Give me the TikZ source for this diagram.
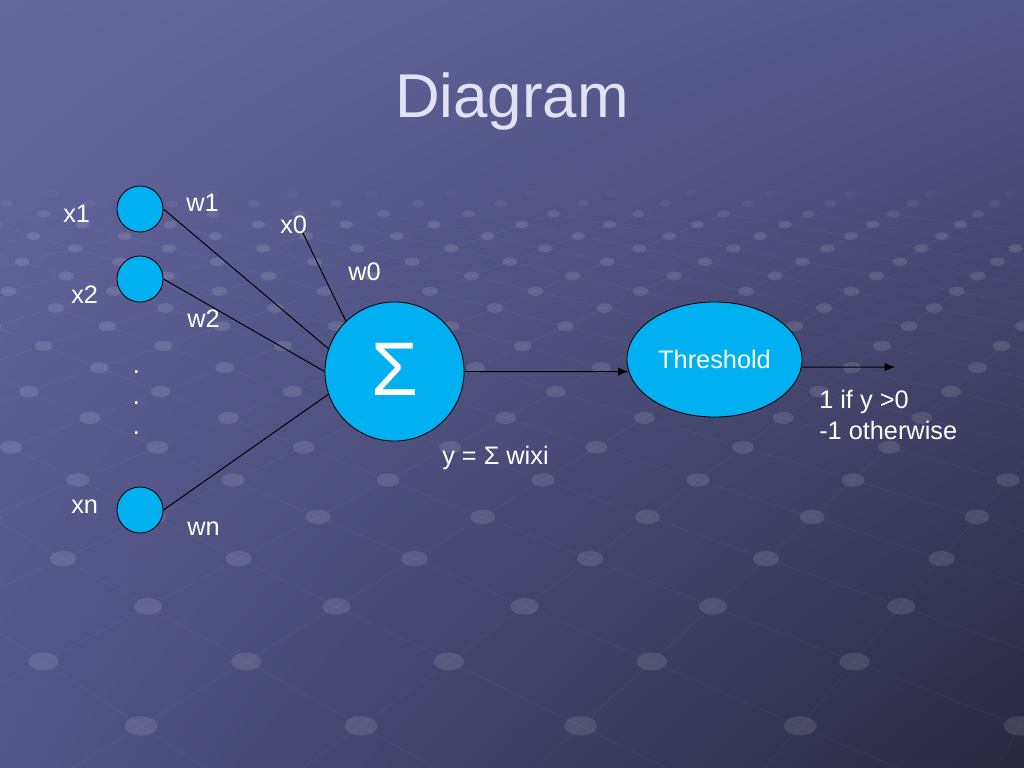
\documentclass[tikz,border=0pt]{standalone}
\usepackage{fontspec}
\setmainfont{Liberation Sans}
\usetikzlibrary{shapes.geometric,arrows.meta,shadings}
\definecolor{bgTL}{RGB}{101,103,158}
\definecolor{bgTR}{RGB}{84,85,135}
\definecolor{bgBL}{RGB}{82,84,134}
\definecolor{bgBR}{RGB}{40,40,64}
\definecolor{cyanfill}{RGB}{0,176,240}
\definecolor{titlecol}{RGB}{226,226,246}
\begin{document}
\begin{tikzpicture}[x=0.025cm,y=-0.025cm,
  lab/.style={text=white,font=\fontsize{18}{21.6}\selectfont,inner sep=0pt,anchor=base west},
  inp/.style={circle,draw=black,line width=0.6pt,fill=cyanfill,minimum size=1.15cm,inner sep=0pt},
  conn/.style={draw=black,line width=0.7pt},
  arr/.style={conn,-{Latex[length=2.6mm,width=2.1mm]}},
  titlefont/.style={font=\fontsize{44}{50}\selectfont,inner sep=0pt,anchor=base}]

% background
\useasboundingbox (0,0) rectangle (1024,768);
\shade[upper left=bgTL,upper right=bgTR,lower left=bgBL,lower right=bgBR] (0,0) rectangle (1024,768);

% decorative perspective lattice of dots
\begin{scope}
\clip (0,0) rectangle (1024,768);
\foreach \n in {-16,...,6}{
  \pgfmathsetmacro\dd{10000/(16.978-\n)}
  \pgfmathsetmacro\ff{\dd/589}
  \pgfmathsetmacro\yy{\dd-109}
  \pgfmathsetmacro\ddn{10000/(15.978-\n)}
  \pgfmathsetmacro\ffn{\ddn/589}
  \pgfmathsetmacro\yyn{\ddn-109}
  \pgfmathsetmacro\off{mod(\n+100,2)*77.5}
  \pgfmathsetmacro\op{min(0.11,0.11*(\n+17)/4)}
  \pgfmathsetmacro\lop{min(0.045,0.045*(\n+17)/4)}
  \pgfmathsetmacro\rx{0.29*\ff}
  \pgfmathsetmacro\ry{0.17*\ff}
  \foreach \m in {-8,...,14}{
    \pgfmathsetmacro\X{78+155*\m+\off-190}
    \pgfmathsetmacro\xx{190+\X*\ff}
    \pgfmathsetmacro\xa{190+(\X-77.5)*\ffn}
    \pgfmathsetmacro\xb{190+(\X+77.5)*\ffn}
    \draw[white,line width=0.5pt,draw opacity=\lop] (\xx,\yy) -- (\xa,\yyn);
    \draw[white,line width=0.5pt,draw opacity=\lop] (\xx,\yy) -- (\xb,\yyn);
    \fill[white,fill opacity=\op] (\xx,\yy) ellipse [x radius=\rx cm, y radius=\ry cm];
  }
}
\end{scope}

% title
\node[titlefont,text=titlecol] (title) at (512,118) {Diagram};

% input nodes
\node[inp] (x1c) at (140,209) {};
\node[inp] (x2c) at (140,279) {};
\node[inp] (xnc) at (140,510) {};

% summation node
\node[circle,draw=black,line width=0.6pt,fill=cyanfill,minimum size=3.475cm,inner sep=0pt,
      text=white,font=\fontsize{54}{60}\selectfont] (sum) at (394.5,371.5) {\raisebox{0.125cm}{Σ}};

% threshold node
\node[ellipse,draw=black,line width=0.6pt,fill=cyanfill,minimum width=4.375cm,minimum height=2.875cm,
      inner sep=0pt,text=white,font=\fontsize{18}{21.6}\selectfont] (thr) at (714.5,359.5) {Threshold};

% labels
\node[lab] (lx1) at (63,222) {x1};
\node[lab] (lw1) at (186,211) {w1};
\node[lab] (lx0) at (280,233) {x0};
\node[lab] (lw0) at (348,280) {w0};
\node[lab] (lx2) at (71,303) {x2};
\node[lab] (lw2) at (187,327) {w2};
\node[lab] (dot1) at (132.5,373.5) {.};
\node[lab] (dot2) at (132.5,404) {.};
\node[lab] (dot3) at (132.5,434.5) {.};
\node[lab] (lxn) at (71,513) {xn};
\node[lab] (lwn) at (187,535) {wn};
\node[lab] (ly) at (442,464) {y = Σ wixi};
\node[lab] (out1) at (819,408) {1 if y >0};
\node[lab] (out2) at (819,439) {-1 otherwise};

% connectors
\coordinate (x0end) at ([xshift=-0.11cm]lx0.base east);
\coordinate (outend) at (895,367);
\draw[conn] (x1c.east) -- (sum.161);
\draw[conn] (x2c.east) -- (sum.180);
\draw[conn] (xnc.east) -- (sum.199);
\draw[conn] (x0end) -- (sum.134);
\draw[arr] (sum.east) -- (thr.188);
\draw[arr] (thr.355) -- (outend);
\end{tikzpicture}
\end{document}
